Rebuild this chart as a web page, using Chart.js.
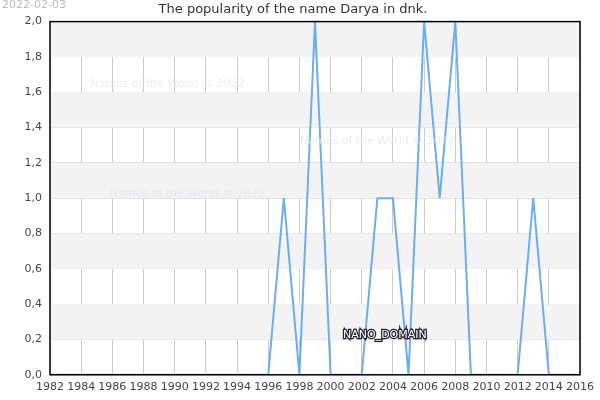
<!DOCTYPE html><html><head><script src="https://cdn.jsdelivr.net/npm/chart.js@4"></script>
<style>body{margin:0}</style></head><body><canvas id="c" width="600" height="400"></canvas>
<script>
const years=[];for(let y=1982;y<=2016;y++)years.push(y);
const values=[0,0,0,0,0,0,0,0,0,0,0,0,0,0,0,1,0,2,0,0,0,1,1,0,2,1,2,0,0,0,0,1,0,0,0];
const title='The popularity of the name Darya in dnk.';
const F='"DejaVu Sans"';
const deco={id:'deco',beforeDatasetsDraw(ch){const {ctx,chartArea:a,scales:{y}}=ch;ctx.save();ctx.fillStyle='#f3f3f3';
for(let v=0.2;v<2;v+=0.4){const t=y.getPixelForValue(v+0.2),b=y.getPixelForValue(v);ctx.fillRect(a.left,t,a.right-a.left,b-t);}
ctx.restore();},
afterDraw(ch){const {ctx,chartArea:a}=ch;ctx.save();ctx.strokeStyle='#000';ctx.lineWidth=1.5;ctx.strokeRect(a.left,a.top,a.right-a.left,a.bottom-a.top);
ctx.font='11px '+F;ctx.fillStyle='rgba(225,225,250,0.7)';ctx.fillText('Names of the World © 2022',90,87);ctx.fillText('Names of the World © 2022',110,197);ctx.fillText('Names of the World © 2022',300,144);
ctx.fillStyle='#bbb';ctx.fillText('2022-02-03',2,8);
ctx.lineWidth=2.5;ctx.strokeStyle='#223';ctx.strokeText('NANO_DOMAIN',343,338);ctx.fillStyle='#fff';ctx.fillText('NANO_DOMAIN',343,338);
ctx.restore();}};
new Chart(document.getElementById('c'),{type:'line',data:{datasets:[{data:years.map((x,i)=>({x,y:values[i]})),borderColor:'#6aaef0',borderWidth:2,pointRadius:0,tension:0}]},
options:{responsive:false,animation:false,devicePixelRatio:1,layout:{padding:{right:14,top:0,left:0}},
plugins:{legend:{display:false},tooltip:{enabled:false},title:{display:true,text:title,font:{family:F,size:13,weight:'normal'},color:'#333',padding:{top:2,bottom:4}}},
scales:{x:{type:'linear',min:1982,max:2016,ticks:{stepSize:2,autoSkip:false,padding:6,font:{family:F,size:11},color:'#444',maxRotation:0,callback:v=>v},grid:{color:'#ccc',drawTicks:false},border:{display:false}},
y:{min:0,max:2,afterFit(s){s.width=50;},ticks:{stepSize:0.2,autoSkip:false,padding:8,font:{family:F,size:11},color:'#444',callback:v=>v.toFixed(1).replace('.',',')},grid:{color:'#ddd',drawTicks:false},border:{display:false}}}},
plugins:[deco]});
</script></body></html>
